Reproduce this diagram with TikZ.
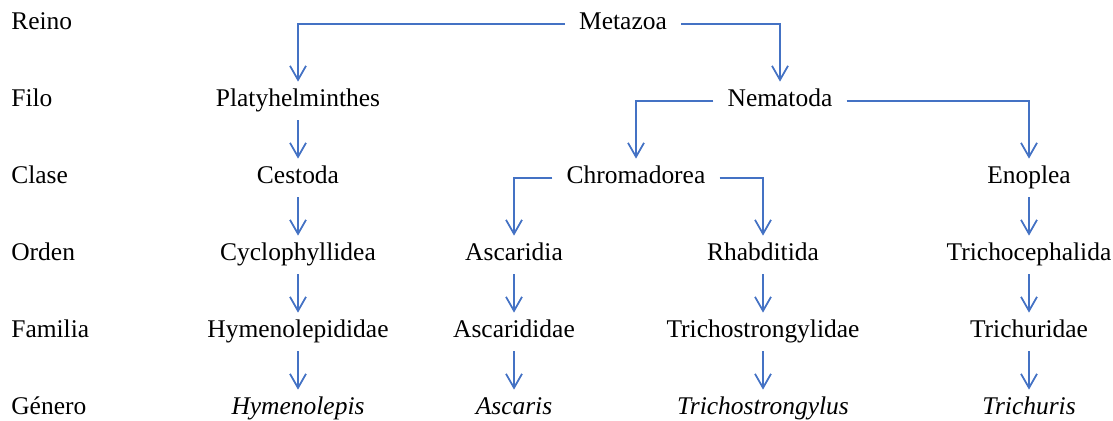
\documentclass[tikz,border=0pt]{standalone}
\usepackage{fontspec}
\setmainfont{Liberation Serif}
\newfontfamily\tnrfont{Liberation Serif}
\usetikzlibrary{arrows.meta}
\definecolor{lineblue}{RGB}{68,114,196}

\begin{document}
\begin{tikzpicture}
	[   x=0.02cm,y=-0.02cm,
	    tnode/.style={inner xsep=0.28cm,inner ysep=0.18cm,text height=0.9em,text depth=0.24em,font=\tnrfont\fontsize{14.5}{16}\selectfont},
	    rank/.style={anchor=west,inner xsep=0pt,text height=0.9em,text depth=0.24em,font=\tnrfont\fontsize{14.5}{16}\selectfont},
	]
	\tikzset{normal arrow/.style={draw=lineblue,line width=1pt,-{Straight Barb[length=0.28cm,width=0.32cm]}}}
	\useasboundingbox (0,0) rectangle (1113,421);
	
	% row labels
	\foreach \lab/\y in {Reino/24,Filo/101,Clase/178,Orden/255,Familia/332,Género/409}
	{
		\node[rank] (r-\lab) at (11,\y) {\lab};
	}
	
	\node[tnode] (metazoa) at (623,24) {Metazoa};
	
	\node[tnode] (platy) at (298,101) {Platyhelminthes};
	\node[tnode] (nema) at (780,101) {Nematoda};
	
	\node[tnode] (cesto) at (298,178) {Cestoda};
	\node[tnode] (chroma) at (636,178) {Chromadorea};
	\node[tnode] (enop) at (1029,178) {Enoplea};
	
	\node[tnode] (cyclo) at (298,255) {Cyclophyllidea};
	\node[tnode] (ascdia) at (514,255) {Ascaridia};
	\node[tnode] (rhab) at (763,255) {Rhabditida};
	\node[tnode] (tcep) at (1029,255) {Trichocephalida};
	
	\node[tnode] (hyme) at (298,332) {Hymenolepididae};
	\node[tnode] (ascdae) at (514,332) {Ascarididae};
	\node[tnode] (tstr) at (763,332) {Trichostrongylidae};
	\node[tnode] (tridae) at (1029,332) {Trichuridae};
	
	\node[tnode] (g-hyme) at (298,409) {\textit{Hymenolepis}};
	\node[tnode] (g-asc) at (514,409) {\textit{Ascaris}};
	\node[tnode] (g-tstr) at (763,409) {\textit{Trichostrongylus}};
	\node[tnode] (g-tri) at (1029,409) {\textit{Trichuris}};
	
	% elbow connectors
	\path[normal arrow] (metazoa.west) -| (platy.north);
	\path[normal arrow] (metazoa.east) -| (nema.north);
	\path[normal arrow] (nema.west) -| (chroma.north);
	\path[normal arrow] (nema.east) -| (enop.north);
	\path[normal arrow] (chroma.west) -| (ascdia.north);
	\path[normal arrow] (chroma.east) -| (rhab.north);
	
	% straight connectors
	\foreach \a/\b in {platy/cesto,cesto/cyclo,cyclo/hyme,hyme/g-hyme,
		ascdia/ascdae,ascdae/g-asc,rhab/tstr,tstr/g-tstr,
		enop/tcep,tcep/tridae,tridae/g-tri}
	{
		\path[normal arrow] (\a) -- (\b);
	}
\end{tikzpicture}
\end{document}
